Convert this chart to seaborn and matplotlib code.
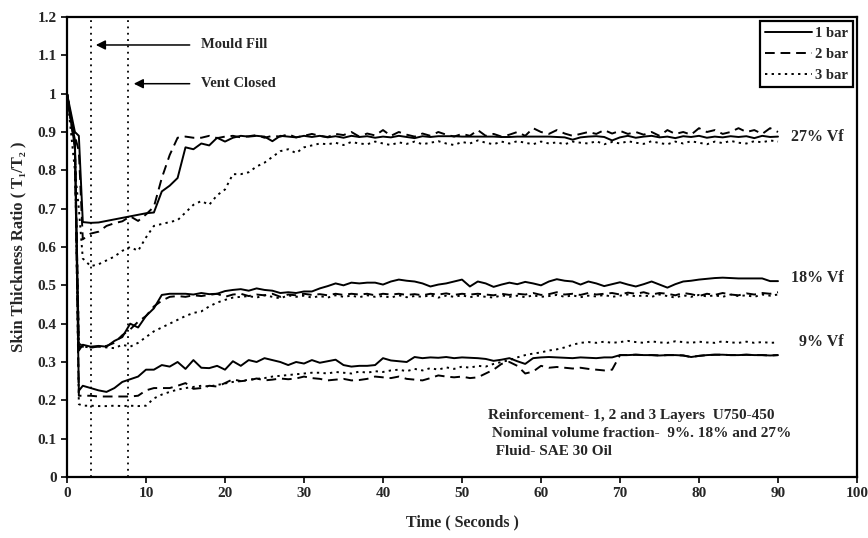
import numpy as np
import pandas as pd
import matplotlib
matplotlib.use('Agg')
import matplotlib.pyplot as plt
import seaborn as sns

# time grid (s): a few early points, then every second
time_s = np.concatenate([[0, 0.5, 1, 1.5], np.arange(2, 91)])

# 27% Vf
s27 = [1.0, 0.95, 0.90, 0.89,
       0.665, 0.663, 0.664, 0.668, 0.672, 0.676, 0.680, 0.684, 0.688, 0.690,
       0.745, 0.760, 0.780, 0.860, 0.855, 0.870, 0.865, 0.885, 0.875, 0.885,
       0.890, 0.888, 0.890, 0.888, 0.876, 0.890, 0.888, 0.886, 0.890, 0.887,
       0.890, 0.886, 0.889, 0.885, 0.890, 0.887, 0.889, 0.885, 0.888, 0.886,
       0.890, 0.887, 0.884, 0.889, 0.887, 0.889, 0.889, 0.889, 0.888, 0.888,
       0.888, 0.888, 0.888, 0.887, 0.887, 0.888, 0.888, 0.888, 0.888, 0.888,
       0.887, 0.886, 0.880, 0.886, 0.888, 0.889, 0.887, 0.878, 0.886, 0.890,
       0.885, 0.888, 0.890, 0.886, 0.888, 0.884, 0.889, 0.887, 0.890, 0.885,
       0.888, 0.886, 0.889, 0.887, 0.889, 0.884, 0.890, 0.887, 0.888]
d27 = [1.0, 0.94, 0.89, 0.85,
       0.620, 0.635, 0.640, 0.655, 0.662, 0.667, 0.680, 0.668, 0.685, 0.705,
       0.780, 0.840, 0.885, 0.888, 0.885, 0.885, 0.890, 0.884, 0.888, 0.890,
       0.886, 0.889, 0.892, 0.885, 0.890, 0.888, 0.894, 0.886, 0.890, 0.895,
       0.890, 0.887, 0.895, 0.892, 0.900, 0.888, 0.896, 0.891, 0.905, 0.890,
       0.900, 0.893, 0.888, 0.896, 0.890, 0.900, 0.893, 0.888, 0.895, 0.890,
       0.905, 0.890, 0.895, 0.888, 0.893, 0.900, 0.890, 0.910, 0.900, 0.895,
       0.905, 0.896, 0.890, 0.895, 0.900, 0.895, 0.905, 0.896, 0.903, 0.895,
       0.900, 0.893, 0.900, 0.890, 0.905, 0.895, 0.900, 0.893, 0.910, 0.900,
       0.905, 0.895, 0.900, 0.910, 0.900, 0.905, 0.895, 0.910, 0.900]
p27 = [1.0, 0.90, 0.80, 0.70,
       0.570, 0.550, 0.555, 0.565, 0.575, 0.590, 0.600, 0.590, 0.625, 0.655,
       0.660, 0.665, 0.670, 0.690, 0.710, 0.720, 0.710, 0.735, 0.750, 0.790,
       0.790, 0.795, 0.810, 0.820, 0.835, 0.850, 0.855, 0.845, 0.860, 0.865,
       0.870, 0.868, 0.872, 0.866, 0.874, 0.870, 0.868, 0.875, 0.870, 0.866,
       0.873, 0.869, 0.875, 0.868, 0.872, 0.876, 0.870, 0.866, 0.874, 0.870,
       0.878, 0.872, 0.868, 0.875, 0.870, 0.876, 0.872, 0.868, 0.875, 0.870,
       0.873, 0.868, 0.875, 0.872, 0.870, 0.876, 0.868, 0.874, 0.870, 0.876,
       0.872, 0.869, 0.876, 0.871, 0.868, 0.875, 0.870, 0.876, 0.872, 0.868,
       0.875, 0.871, 0.877, 0.872, 0.870, 0.876, 0.873, 0.878, 0.875]

# 18% Vf
s18 = [1.0, 0.93, 0.88, 0.33,
       0.345, 0.340, 0.342, 0.340, 0.355, 0.365, 0.400, 0.390, 0.420, 0.440,
       0.475, 0.478, 0.478, 0.478, 0.476, 0.480, 0.477, 0.478, 0.485, 0.488,
       0.490, 0.486, 0.492, 0.488, 0.486, 0.480, 0.482, 0.480, 0.484, 0.484,
       0.492, 0.498, 0.505, 0.500, 0.507, 0.505, 0.507, 0.507, 0.502, 0.510,
       0.515, 0.512, 0.510, 0.505, 0.497, 0.502, 0.505, 0.510, 0.515, 0.497,
       0.510, 0.505, 0.496, 0.502, 0.507, 0.503, 0.509, 0.505, 0.500, 0.510,
       0.516, 0.512, 0.510, 0.502, 0.510, 0.505, 0.498, 0.503, 0.508, 0.502,
       0.497, 0.503, 0.510, 0.502, 0.494, 0.503, 0.510, 0.512, 0.515, 0.517,
       0.519, 0.520, 0.519, 0.518, 0.518, 0.518, 0.518, 0.511, 0.511]
d18 = [1.0, 0.93, 0.87, 0.34,
       0.340, 0.338, 0.340, 0.342, 0.350, 0.370, 0.385, 0.405, 0.420, 0.445,
       0.460, 0.470, 0.472, 0.470, 0.474, 0.472, 0.475, 0.478, 0.470, 0.476,
       0.478, 0.472, 0.476, 0.474, 0.478, 0.470, 0.476, 0.474, 0.478, 0.475,
       0.477, 0.474, 0.478, 0.475, 0.478, 0.476, 0.478, 0.474, 0.478, 0.476,
       0.478, 0.475, 0.477, 0.474, 0.478, 0.476, 0.479, 0.475, 0.478, 0.476,
       0.478, 0.476, 0.474, 0.478, 0.475, 0.478, 0.476, 0.480, 0.475, 0.477,
       0.482, 0.476, 0.478, 0.475, 0.480, 0.476, 0.478, 0.480, 0.476, 0.481,
       0.478, 0.482, 0.476, 0.480, 0.478, 0.474, 0.480, 0.477, 0.472, 0.478,
       0.475, 0.480, 0.476, 0.474, 0.479, 0.476, 0.480, 0.478, 0.482]
p18 = [1.0, 0.93, 0.86, 0.35,
       0.340, 0.338, 0.340, 0.338, 0.336, 0.345, 0.340, 0.350, 0.365, 0.380,
       0.390, 0.400, 0.410, 0.420, 0.428, 0.432, 0.445, 0.455, 0.462, 0.468,
       0.470, 0.472, 0.468, 0.474, 0.470, 0.466, 0.474, 0.470, 0.473, 0.468,
       0.472, 0.468, 0.474, 0.470, 0.473, 0.469, 0.474, 0.470, 0.472, 0.468,
       0.474, 0.469, 0.472, 0.470, 0.474, 0.468, 0.473, 0.470, 0.474, 0.469,
       0.473, 0.470, 0.468, 0.474, 0.470, 0.473, 0.469, 0.474, 0.470, 0.472,
       0.475, 0.470, 0.474, 0.469, 0.473, 0.471, 0.475, 0.470, 0.473, 0.476,
       0.471, 0.474, 0.470, 0.476, 0.472, 0.468, 0.474, 0.470, 0.475, 0.471,
       0.474, 0.470, 0.476, 0.472, 0.474, 0.470, 0.476, 0.473, 0.476]

# 9% Vf
s9 = [1.0, 0.93, 0.86, 0.225,
      0.238, 0.232, 0.226, 0.222, 0.232, 0.248, 0.255, 0.262, 0.280, 0.280,
      0.292, 0.288, 0.300, 0.282, 0.305, 0.285, 0.284, 0.290, 0.280, 0.302,
      0.290, 0.305, 0.300, 0.310, 0.305, 0.300, 0.292, 0.300, 0.296, 0.305,
      0.298, 0.302, 0.306, 0.292, 0.288, 0.290, 0.290, 0.292, 0.310, 0.304,
      0.302, 0.300, 0.313, 0.310, 0.312, 0.311, 0.313, 0.310, 0.312, 0.311,
      0.310, 0.308, 0.303, 0.306, 0.310, 0.302, 0.295, 0.310, 0.312, 0.313,
      0.312, 0.311, 0.310, 0.312, 0.311, 0.310, 0.312, 0.312, 0.318, 0.318,
      0.319, 0.318, 0.318, 0.317, 0.318, 0.318, 0.317, 0.313, 0.316, 0.318,
      0.319, 0.319, 0.318, 0.318, 0.319, 0.318, 0.318, 0.317, 0.318]
d9 = [1.0, 0.93, 0.86, 0.212,
      0.212, 0.212, 0.210, 0.210, 0.210, 0.210, 0.210, 0.212, 0.226, 0.232,
      0.232, 0.232, 0.238, 0.245, 0.230, 0.232, 0.238, 0.236, 0.245, 0.255,
      0.250, 0.252, 0.257, 0.252, 0.254, 0.257, 0.255, 0.257, 0.262, 0.258,
      0.256, 0.252, 0.254, 0.256, 0.252, 0.253, 0.256, 0.262, 0.260, 0.258,
      0.262, 0.256, 0.254, 0.252, 0.258, 0.265, 0.262, 0.260, 0.262, 0.258,
      0.260, 0.270, 0.280, 0.295, 0.300, 0.290, 0.270, 0.275, 0.290, 0.285,
      0.287, 0.285, 0.283, 0.285, 0.282, 0.280, 0.278, 0.280, 0.318, 0.318,
      0.319, 0.318, 0.318, 0.317, 0.318, 0.318, 0.317, 0.313, 0.316, 0.318,
      0.319, 0.319, 0.318, 0.318, 0.319, 0.318, 0.318, 0.317, 0.318]
p9 = [1.0, 0.93, 0.86, 0.19,
      0.186, 0.186, 0.185, 0.185, 0.186, 0.185, 0.186, 0.185, 0.186, 0.205,
      0.215, 0.222, 0.228, 0.232, 0.235, 0.238, 0.236, 0.240, 0.244, 0.248,
      0.250, 0.254, 0.256, 0.258, 0.262, 0.264, 0.266, 0.268, 0.270, 0.272,
      0.272, 0.270, 0.274, 0.272, 0.270, 0.275, 0.272, 0.276, 0.274, 0.278,
      0.280, 0.276, 0.282, 0.278, 0.284, 0.280, 0.286, 0.282, 0.288, 0.285,
      0.290, 0.288, 0.295, 0.300, 0.305, 0.312, 0.318, 0.322, 0.325, 0.330,
      0.333, 0.338, 0.345, 0.350, 0.352, 0.350, 0.353, 0.350, 0.352, 0.355,
      0.352, 0.350, 0.354, 0.351, 0.350, 0.354, 0.352, 0.350, 0.353, 0.351,
      0.350, 0.354, 0.351, 0.350, 0.353, 0.350, 0.352, 0.350, 0.351]

pressures = ['1 bar', '2 bar', '3 bar']
fractions = ['27% Vf', '18% Vf', '9% Vf']
series = {('27% Vf', '1 bar'): s27, ('27% Vf', '2 bar'): d27, ('27% Vf', '3 bar'): p27,
          ('18% Vf', '1 bar'): s18, ('18% Vf', '2 bar'): d18, ('18% Vf', '3 bar'): p18,
          ('9% Vf', '1 bar'): s9, ('9% Vf', '2 bar'): d9, ('9% Vf', '3 bar'): p9}
label_y = [0.888, 0.52, 0.353]

notes = ['Reinforcement- 1, 2 and 3 Layers  U750-450',
         ' Nominal volume fraction-  9%. 18% and 27%',
         '  Fluid- SAE 30 Oil']

rows = []
for (vf, p), vals in series.items():
    for t, v in zip(time_s, vals):
        rows.append({'time': t, 'ratio': v, 'pressure': p, 'vf': vf})
df = pd.DataFrame(rows)

sns.set_style('ticks')
plt.rcParams['font.family'] = ['Liberation Serif', 'DejaVu Serif']
plt.rcParams['font.weight'] = 'bold'
plt.rcParams['axes.labelweight'] = 'bold'

fig, ax = plt.subplots(figsize=(8.68, 5.38), dpi=100)
fig.subplots_adjust(left=67/868, right=857/868, top=1-17/538, bottom=1-477/538)

sns.lineplot(data=df, x='time', y='ratio', style='pressure', units='vf',
             estimator=None, sort=False, color='black', linewidth=1.4,
             style_order=pressures,
             dashes={'1 bar': '', '2 bar': (5, 3), '3 bar': (1.2, 2.2)}, ax=ax)

# event markers
for xv in [3, 7.75]:
    ax.axvline(xv, color='black', linestyle=(0, (1, 2.5)), linewidth=1.3)
ax.annotate('Mould Fill', xy=(3.3, 1.127), xytext=(17, 1.127), va='center',
            fontsize=10.5, fontweight='bold',
            arrowprops=dict(arrowstyle='-|>', color='black', lw=1.1, mutation_scale=14, shrinkA=6))
ax.annotate('Vent Closed', xy=(8.1, 1.026), xytext=(17, 1.026), va='center',
            fontsize=10.5, fontweight='bold',
            arrowprops=dict(arrowstyle='-|>', color='black', lw=1.1, mutation_scale=14, shrinkA=6))

for vf, yv in zip(fractions, label_y):
    ax.text(91.6 if vf != '9% Vf' else 92.6, yv, vf, va='center', fontsize=11.5, fontweight='bold')

for i, line in enumerate(notes):
    ax.text(53.3, 0.16 - i * 0.047, line, va='center', fontsize=11, fontweight='bold')

ax.set_xlim(0, 100)
ax.set_ylim(0, 1.2)
ax.set_xticks(range(0, 101, 10))
ax.set_yticks(np.arange(0, 1.21, 0.1))
ax.set_yticklabels(['0', '0.1', '0.2', '0.3', '0.4', '0.5', '0.6', '0.7', '0.8', '0.9', '1', '1.1', '1.2'])
ax.tick_params(direction='out', length=4, width=1.2, labelsize=11, color='black')
for lab in ax.get_xticklabels() + ax.get_yticklabels():
    lab.set_fontweight('bold')
ax.set_xlabel('Time ( Seconds )', fontsize=11.5, labelpad=10)
ax.set_ylabel('Skin Thickness Ratio ( T₁/T₂ )', fontsize=12, labelpad=8)
for sp in ax.spines.values():
    sp.set_visible(True)
    sp.set_linewidth(1.6)
    sp.set_color('black')

sns.move_legend(ax, 'upper right', title=None, frameon=True, fancybox=False,
                edgecolor='black', framealpha=1, fontsize=10.5, handlelength=3.2,
                handletextpad=0.2, borderpad=0.35, labelspacing=0.55,
                borderaxespad=0.3)
leg = ax.get_legend()
leg.get_frame().set_linewidth(1.6)
for txt in leg.get_texts():
    txt.set_fontweight('bold')

fig.savefig('out.png', dpi=100)
